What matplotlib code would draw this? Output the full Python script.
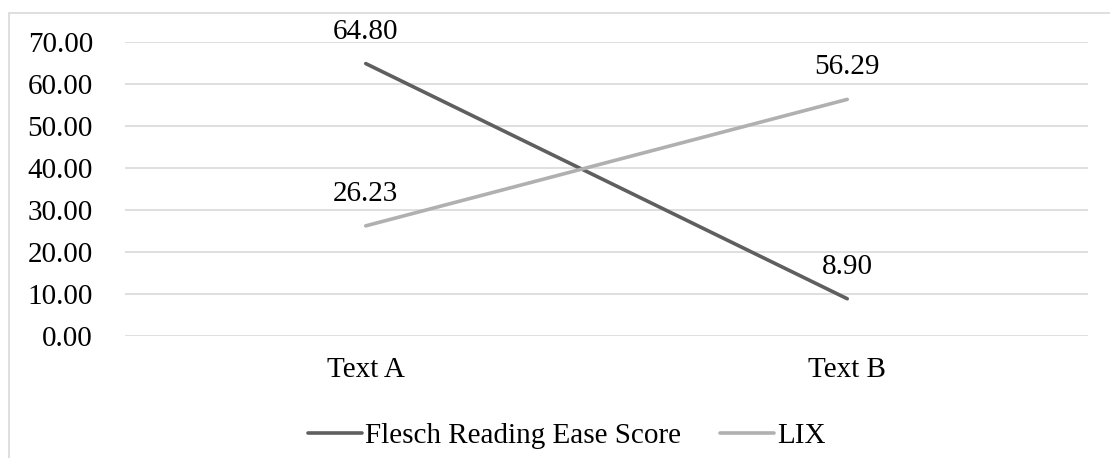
import matplotlib
matplotlib.use("Agg")
import matplotlib.pyplot as plt
from matplotlib.patches import Rectangle

categories = ["Text A", "Text B"]
flesch = [64.80, 8.90]
lix = [26.23, 56.29]
series_names = ["Flesch Reading Ease Score", "LIX"]
y_ticks = [0, 10, 20, 30, 40, 50, 60, 70]

W, H, DPI = 1110, 458, 100
plt.rcParams["font.family"] = ["Liberation Serif", "DejaVu Serif"]
FS = 21

fig = plt.figure(figsize=(W / DPI, H / DPI), dpi=DPI)
fig.patch.set_facecolor("white")

# chart-area frame (runs off the right/bottom edge like the source crop)
fig.patches.append(Rectangle((8.5 / W, -0.1), 1.2, 1 - 12.5 / H + 0.1,
                             transform=fig.transFigure, fill=False,
                             edgecolor="#d9d9d9", lw=1.2))

left, right = 125 / W, 1088 / W
top, bottom = 1 - 41.7 / H, 1 - 336.2 / H
ax = fig.add_axes([left, bottom, right - left, top - bottom])
ax.set_facecolor("none")

x = list(range(len(categories)))
colors = ["#5f5f5f", "#b0b0b0"]
for vals, name, c in zip([flesch, lix], series_names, colors):
    ax.plot(x, vals, color=c, lw=2.6, solid_capstyle="round", label=name,
            zorder=3)
    for xi, v in zip(x, vals):
        ax.annotate(f"{v:.2f}", (xi, v), xytext=(0, 23),
                    textcoords="offset points", ha="center", va="center",
                    fontsize=FS, color="black", zorder=4)

ax.set_xlim(-0.5, len(categories) - 0.5)
ax.set_ylim(0, 70)
ax.set_yticks(y_ticks)
ax.set_yticklabels([f"{t:.2f}" for t in y_ticks])
ax.set_xticks(x)
ax.set_xticklabels(categories)
ax.tick_params(axis="y", length=0, pad=23, labelsize=FS)
ax.tick_params(axis="x", length=0, pad=15, labelsize=FS)
ax.yaxis.grid(True, color="#d9d9d9", lw=1.2)
ax.set_axisbelow(True)
for s in ax.spines.values():
    s.set_visible(False)

fig.legend(loc="center", bbox_to_anchor=(567 / W, 1 - 436 / H), ncol=2,
           frameon=False, fontsize=FS, handlelength=1.85, handletextpad=0.1,
           columnspacing=1.35, borderpad=0, borderaxespad=0)

fig.savefig("out.png", dpi=DPI)
